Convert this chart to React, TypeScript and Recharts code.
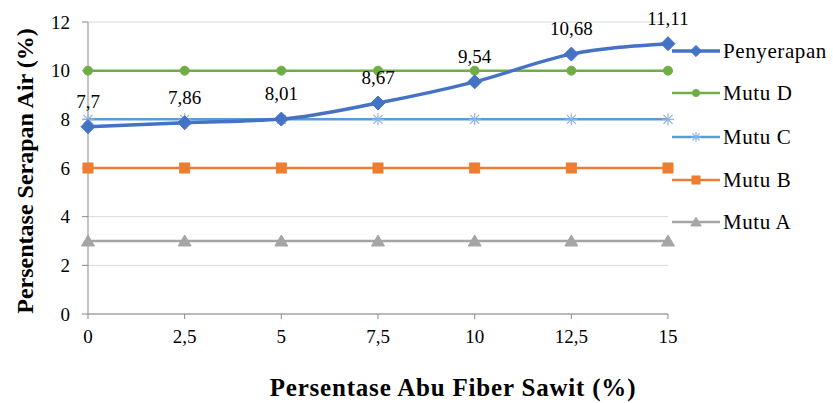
import React from 'react';
import { LineChart, Line, XAxis, YAxis, CartesianGrid, LabelList, Label } from 'recharts';

const xValues = [0, 2.5, 5, 7.5, 10, 12.5, 15];
const penyerapan = [7.7, 7.86, 8.01, 8.67, 9.54, 10.68, 11.11];
const mutuD = [10, 10, 10, 10, 10, 10, 10];
const mutuC = [8, 8, 8, 8, 8, 8, 8];
const mutuB = [6, 6, 6, 6, 6, 6, 6];
const mutuA = [3, 3, 3, 3, 3, 3, 3];
const yTicks = [0, 2, 4, 6, 8, 10, 12];

const xTitle = 'Persentase Abu Fiber Sawit (%)';
const yTitle = 'Persentase Serapan Air (%)';

const data = xValues.map((x, i) => ({
  x,
  penyerapan: penyerapan[i],
  mutuD: mutuD[i],
  mutuC: mutuC[i],
  mutuB: mutuB[i],
  mutuA: mutuA[i],
}));

const FONT = 'Liberation Serif';
const fmt = (v: number | string) => String(v).replace('.', ',');

type Shape = 'diamond' | 'circle' | 'star' | 'square' | 'triangle';

const series: { key: string; name: string; color: string; shape: Shape; width: number }[] = [
  { key: 'penyerapan', name: 'Penyerapan', color: '#4472C4', shape: 'diamond', width: 3.5 },
  { key: 'mutuD', name: 'Mutu D', color: '#70AD47', shape: 'circle', width: 2.5 },
  { key: 'mutuC', name: 'Mutu C', color: '#5B9BD5', shape: 'star', width: 2.5 },
  { key: 'mutuB', name: 'Mutu B', color: '#ED7D31', shape: 'square', width: 2.5 },
  { key: 'mutuA', name: 'Mutu A', color: '#A5A5A5', shape: 'triangle', width: 2.5 },
];

function Marker({ shape, cx, cy, color, s = 1 }: { shape: Shape; cx: number; cy: number; color: string; s?: number }) {
  if (shape === 'diamond') {
    const r = 7 * s;
    return <polygon points={`${cx},${cy - r} ${cx + r},${cy} ${cx},${cy + r} ${cx - r},${cy}`} fill={color} stroke={color} />;
  }
  if (shape === 'circle') return <circle cx={cx} cy={cy} r={4.5 * s} fill={color} stroke={color} />;
  if (shape === 'square') {
    const h = 5 * s;
    return <rect x={cx - h} y={cy - h} width={2 * h} height={2 * h} fill={color} stroke={color} />;
  }
  if (shape === 'triangle')
    return (
      <polygon
        points={`${cx},${cy - 6 * s} ${cx + 6.5 * s},${cy + 5 * s} ${cx - 6.5 * s},${cy + 5 * s}`}
        fill={color}
        stroke={color}
      />
    );
  const r = 6 * s;
  const c = '#8DB4E2';
  return (
    <g stroke={c} strokeWidth={1.2}>
      <line x1={cx - r} y1={cy} x2={cx + r} y2={cy} />
      <line x1={cx} y1={cy - r} x2={cx} y2={cy + r} />
      <line x1={cx - r * 0.75} y1={cy - r * 0.75} x2={cx + r * 0.75} y2={cy + r * 0.75} />
      <line x1={cx - r * 0.75} y1={cy + r * 0.75} x2={cx + r * 0.75} y2={cy - r * 0.75} />
    </g>
  );
}

const legendRows = [21, 63, 107, 150, 192];

function LegendBox() {
  return (
    <svg width={165} height={220} style={{ display: 'block' }}>
      {series.map((s, i) => (
        <g key={s.key}>
          <line x1={2} y1={legendRows[i]} x2={50} y2={legendRows[i]} stroke={s.color} strokeWidth={s.width} />
          <Marker shape={s.shape} cx={26} cy={legendRows[i]} color={s.color} s={0.8} />
          <text x={53} y={legendRows[i] + 7} fontFamily={FONT} fontSize={21} letterSpacing={0.6} fill="#000">
            {s.name}
          </text>
        </g>
      ))}
    </svg>
  );
}

export default function App() {
  const drawOrder = [...series.slice(1).reverse(), series[0]];
  return (
    <div style={{ position: 'absolute', left: 0, top: 0, width: 833, height: 403, background: '#fff', fontFamily: FONT }}>
      <LineChart
        width={833}
        height={403}
        data={data}
        margin={{ top: 22, right: 165, bottom: 0, left: 0 }}
        style={{ fontFamily: FONT }}
      >
        <CartesianGrid vertical={false} stroke="#D9D9D9" />
        <XAxis
          dataKey="x"
          type="number"
          domain={[0, 15]}
          ticks={xValues}
          tickFormatter={fmt}
          height={89}
          tickSize={5}
          tickMargin={11}
          stroke="#898989"
          tick={{ fill: '#000', fontSize: 19, fontFamily: FONT }}
          interval={0}
        >
          <Label
            content={() => (
              <text
                x={453}
                y={396}
                textAnchor="middle"
                fontFamily={FONT}
                fontWeight="bold"
                fontSize={25}
                letterSpacing={0.8}
                fill="#000"
              >
                {xTitle}
              </text>
            )}
          />
        </XAxis>
        <YAxis
          domain={[0, 12]}
          ticks={yTicks}
          width={88}
          tickSize={6}
          tickMargin={12}
          stroke="#898989"
          tick={{ fill: '#000', fontSize: 19, fontFamily: FONT }}
          interval={0}
        >
          <Label
            content={() => (
              <text
                x={33}
                y={171}
                transform="rotate(-90 33 171)"
                textAnchor="middle"
                fontFamily={FONT}
                fontWeight="bold"
                fontSize={24}
                fill="#000"
              >
                {yTitle}
              </text>
            )}
          />
        </YAxis>
        {drawOrder.map((s) => (
          <Line
            key={s.key}
            dataKey={s.key}
            name={s.name}
            type={s.key === 'penyerapan' ? 'monotone' : 'linear'}
            stroke={s.color}
            strokeWidth={s.width}
            isAnimationActive={false}
            dot={(p: any) => <Marker key={`${s.key}-${p.index}`} shape={s.shape} cx={p.cx} cy={p.cy} color={s.color} />}
            activeDot={false}
          >
            {s.key === 'penyerapan' && (
              <LabelList
                dataKey="penyerapan"
                position="top"
                offset={19}
                formatter={fmt as any}
                fill="#000"
                fontSize={19}
                fontFamily={FONT}
              />
            )}
          </Line>
        ))}
      </LineChart>
      <div style={{ position: 'absolute', left: 670, top: 30 }}>
        <LegendBox />
      </div>
    </div>
  );
}
